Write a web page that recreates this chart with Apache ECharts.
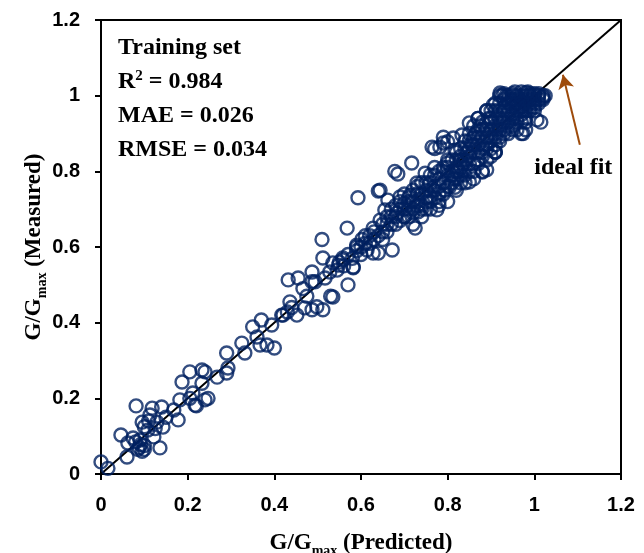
<!DOCTYPE html>
<html>
<head>
<meta charset="utf-8">
<script src="https://cdn.jsdelivr.net/npm/echarts@6/dist/echarts.min.js"></script>
<style>
  html, body { margin: 0; padding: 0; background: #fff; }
  #chart { width: 644px; height: 553px; }
</style>
</head>
<body>
<div id="chart"></div>
<script>
// ticks
const AXIS_MIN = 0
const AXIS_MAX = 1.2
const AXIS_STEP = 0.2

// [predicted, measured]
const pointsLow = [
  [0.0, 0.032], [0.016, 0.015], [0.046, 0.103], [0.06, 0.045], [0.081, 0.18], [0.062, 0.082],
  [0.074, 0.095], [0.08, 0.085], [0.088, 0.07], [0.095, 0.06], [0.1, 0.075], [0.09, 0.09],
  [0.085, 0.065], [0.1, 0.065], [0.092, 0.078], [0.095, 0.137], [0.1, 0.125], [0.118, 0.174],
  [0.113, 0.156], [0.14, 0.177], [0.136, 0.069], [0.122, 0.098], [0.143, 0.124], [0.129, 0.137],
  [0.108, 0.116], [0.178, 0.143], [0.168, 0.169], [0.182, 0.196], [0.187, 0.243], [0.205, 0.27],
  [0.212, 0.214], [0.217, 0.182], [0.233, 0.24], [0.24, 0.196], [0.247, 0.2], [0.233, 0.275],
  [0.24, 0.27], [0.268, 0.256], [0.29, 0.32], [0.29, 0.267], [0.293, 0.28], [0.205, 0.2],
  [0.22, 0.18], [0.11, 0.14], [0.125, 0.12], [0.15, 0.15]
]

const pointsMid = [
  [0.325, 0.346], [0.332, 0.32], [0.35, 0.389], [0.37, 0.407], [0.36, 0.362], [0.367, 0.341],
  [0.383, 0.341], [0.4, 0.333], [0.394, 0.394], [0.417, 0.42], [0.43, 0.428], [0.436, 0.455],
  [0.452, 0.42], [0.47, 0.439], [0.487, 0.434], [0.498, 0.442], [0.512, 0.434], [0.535, 0.468],
  [0.432, 0.513], [0.455, 0.518], [0.466, 0.49], [0.487, 0.534], [0.487, 0.508], [0.494, 0.508],
  [0.517, 0.518], [0.512, 0.571], [0.528, 0.534], [0.535, 0.558], [0.545, 0.539], [0.558, 0.566],
  [0.57, 0.5], [0.582, 0.545], [0.59, 0.6], [0.51, 0.62], [0.42, 0.42], [0.44, 0.44],
  [0.475, 0.47], [0.53, 0.47], [0.548, 0.552], [0.558, 0.571], [0.582, 0.547], [0.59, 0.605],
  [0.568, 0.65], [0.593, 0.73]
]

const pointsUpper = [
  [0.602, 0.62], [0.614, 0.592], [0.628, 0.584], [0.64, 0.584], [0.672, 0.592], [0.628, 0.65],
  [0.644, 0.671], [0.655, 0.698], [0.662, 0.724], [0.683, 0.69], [0.69, 0.732], [0.7, 0.716],
  [0.713, 0.737], [0.725, 0.65], [0.732, 0.693], [0.717, 0.822], [0.729, 0.769], [0.748, 0.795],
  [0.764, 0.864], [0.775, 0.698], [0.76, 0.732], [0.79, 0.875], [0.8, 0.822], [0.794, 0.75],
  [0.817, 0.856], [0.817, 0.758], [0.644, 0.75], [0.678, 0.8], [0.685, 0.793], [0.64, 0.748],
  [0.61, 0.63], [0.62, 0.61], [0.65, 0.64], [0.66, 0.66], [0.67, 0.68], [0.68, 0.66],
  [0.69, 0.7], [0.7, 0.68], [0.71, 0.7], [0.72, 0.72], [0.73, 0.71], [0.74, 0.74],
  [0.75, 0.73], [0.76, 0.77], [0.77, 0.76], [0.78, 0.78], [0.79, 0.8], [0.78, 0.74],
  [0.77, 0.86], [0.8, 0.878], [0.813, 0.888], [0.833, 0.896],
  [0.55, 0.56], [0.56, 0.55], [0.57, 0.58], [0.58, 0.57], [0.59, 0.59], [0.6, 0.6],
  [0.6, 0.58], [0.61, 0.61], [0.62, 0.63], [0.63, 0.62], [0.63, 0.64], [0.64, 0.63],
  [0.65, 0.66], [0.65, 0.62], [0.66, 0.68], [0.66, 0.64], [0.67, 0.66], [0.67, 0.7],
  [0.68, 0.68], [0.68, 0.71], [0.69, 0.67], [0.69, 0.72], [0.7, 0.7], [0.7, 0.74],
  [0.71, 0.68], [0.71, 0.73], [0.72, 0.75], [0.72, 0.69], [0.73, 0.72], [0.73, 0.76],
  [0.74, 0.7], [0.74, 0.77], [0.75, 0.75], [0.75, 0.7], [0.76, 0.72], [0.76, 0.79],
  [0.77, 0.75], [0.77, 0.81], [0.78, 0.8], [0.78, 0.72]
]

const pointsHigh = [
  [0.70, 0.68], [0.71, 0.72], [0.72, 0.70], [0.72, 0.66], [0.73, 0.74], [0.74, 0.71],
  [0.74, 0.68], [0.75, 0.77], [0.75, 0.72], [0.76, 0.70], [0.76, 0.75], [0.77, 0.79],
  [0.77, 0.73], [0.78, 0.76], [0.78, 0.71], [0.79, 0.81], [0.79, 0.77], [0.79, 0.74],
  [0.80, 0.83], [0.80, 0.79], [0.80, 0.76], [0.80, 0.72], [0.81, 0.80], [0.81, 0.77],
  [0.82, 0.85], [0.82, 0.81], [0.82, 0.78], [0.82, 0.75], [0.83, 0.83], [0.83, 0.79],
  [0.83, 0.86], [0.84, 0.81], [0.84, 0.77], [0.84, 0.88], [0.85, 0.84], [0.85, 0.80],
  [0.85, 0.86], [0.85, 0.90], [0.86, 0.82], [0.86, 0.87], [0.86, 0.78], [0.86, 0.92],
  [0.87, 0.85], [0.87, 0.89], [0.87, 0.82], [0.87, 0.94], [0.88, 0.87], [0.88, 0.91],
  [0.88, 0.84], [0.88, 0.80], [0.89, 0.89], [0.89, 0.93], [0.89, 0.86], [0.89, 0.96],
  [0.90, 0.91], [0.90, 0.88], [0.90, 0.94], [0.90, 0.84], [0.91, 0.92], [0.91, 0.96],
  [0.91, 0.89], [0.91, 0.85], [0.92, 0.94], [0.92, 0.98], [0.92, 0.91], [0.92, 0.88],
  [0.93, 0.96], [0.93, 0.93], [0.93, 0.99], [0.93, 0.90], [0.94, 0.95], [0.94, 0.98],
  [0.94, 0.92], [0.94, 1.00], [0.95, 0.97], [0.95, 0.94], [0.95, 0.99], [0.95, 0.91],
  [0.96, 0.96], [0.96, 0.98], [0.96, 1.00], [0.96, 0.93], [0.97, 0.97], [0.97, 0.99],
  [0.97, 0.95], [0.97, 1.01], [0.98, 0.98], [0.98, 0.96], [0.98, 1.00], [0.98, 0.93],
  [0.99, 0.99], [0.99, 0.97], [0.99, 1.00], [1.00, 0.98], [1.00, 1.00], [1.00, 0.96],
  [1.01, 0.99], [1.01, 1.00], [1.02, 1.00], [1.02, 0.99], [1.006, 0.936], [0.98, 0.91],
  [0.97, 0.90], [1.015, 0.93], [0.974, 0.9], [0.91, 0.851], [0.88, 0.798], [0.85, 0.772],
  [0.909, 0.851], [0.89, 0.804], [0.782, 0.864], [0.79, 0.89], [0.85, 0.928], [0.87, 0.94],
  [0.89, 0.96], [0.925, 1.0], [0.921, 1.007], [0.95, 1.005], [0.98, 1.008], [1.0, 1.005]
]

const pointsCluster = [
  [0.8, 0.81], [0.81, 0.83], [0.81, 0.79], [0.82, 0.83], [0.82, 0.8], [0.83, 0.81],
  [0.83, 0.84], [0.83, 0.77], [0.84, 0.83], [0.84, 0.86], [0.84, 0.79], [0.85, 0.82],
  [0.85, 0.88], [0.86, 0.85], [0.86, 0.89], [0.86, 0.8], [0.87, 0.87], [0.87, 0.91],
  [0.87, 0.83], [0.88, 0.89], [0.88, 0.93], [0.88, 0.85], [0.89, 0.91], [0.89, 0.87],
  [0.89, 0.83], [0.9, 0.93], [0.9, 0.96], [0.9, 0.89], [0.9, 0.86], [0.91, 0.94],
  [0.91, 0.98], [0.91, 0.9], [0.91, 0.87], [0.92, 0.96], [0.92, 0.92], [0.92, 0.89],
  [0.92, 1.0], [0.93, 0.97], [0.93, 0.94], [0.93, 0.91], [0.93, 1.005], [0.94, 0.96],
  [0.94, 0.99], [0.94, 0.93], [0.94, 0.9], [0.95, 0.98], [0.95, 0.95], [0.95, 0.92],
  [0.95, 1.0], [0.96, 0.99], [0.96, 0.97], [0.96, 0.94], [0.96, 0.91], [0.97, 0.98],
  [0.97, 0.96], [0.97, 0.93], [0.97, 1.0], [0.98, 0.99], [0.98, 0.97], [0.98, 0.94],
  [0.99, 0.98], [0.99, 0.96], [0.99, 1.005], [1.0, 0.99], [1.0, 0.97], [1.01, 0.98],
  [1.01, 1.005], [1.02, 0.995], [1.025, 1.0], [0.985, 1.01], [0.955, 1.01], [0.935, 1.0],
  [0.905, 0.975], [0.895, 0.94], [0.875, 0.92], [0.865, 0.9], [0.855, 0.87], [0.845, 0.85],
  [0.835, 0.82], [0.825, 0.8], [0.815, 0.78], [0.805, 0.76]
]

// reference line and its label
const idealLine = [[0, 0], [1.2, 1.2]]
const arrowFrom = [1.105, 0.87]
const arrowTo = [1.066, 1.055]
const idealLabelAt = [1.09, 0.81]

const statLines = [
  '{b|Training set}',
  '{b|R}{sup|2}{b| = 0.984}',
  '{b|MAE = 0.026}',
  '{b|RMSE = 0.034}'
]

const NAVY = '#002060'
const SERIF = '"Liberation Serif", "Times New Roman", serif'
const SANS = '"Liberation Sans", Arial, sans-serif'

const nameRich = {
  b: { fontFamily: SERIF, fontWeight: 'bold', fontSize: 23, color: '#000', lineHeight: 30 },
  sub: { fontFamily: SERIF, fontWeight: 'bold', fontSize: 14, color: '#000', lineHeight: 14, verticalAlign: 'bottom' }
}

const chart = echarts.init(document.getElementById('chart'))

const axisCommon = {
  type: 'value',
  min: AXIS_MIN,
  max: AXIS_MAX,
  interval: AXIS_STEP,
  splitLine: { show: false },
  nameMoveOverlap: false,
  axisLine: { onZero: false, lineStyle: { color: '#000', width: 2 } },
  axisTick: { show: true, inside: false, length: 6, lineStyle: { color: '#000', width: 2 } },
  axisLabel: { color: '#000', fontFamily: SANS, fontWeight: 'bold', fontSize: 20, margin: 21 }
}

const scatterStyle = {
  type: 'scatter',
  symbol: 'circle',
  symbolSize: 13,
  itemStyle: { color: 'rgba(0,0,0,0)', borderColor: NAVY, borderWidth: 2.4 },
  z: 3
}

chart.setOption({
  animation: false,
  backgroundColor: '#fff',
  grid: {
    left: 101, right: 23, top: 20, bottom: 79,
    outerBoundsMode: 'none',
    show: true, borderColor: '#000', borderWidth: 2
  },
  xAxis: {
    ...axisCommon,
    name: '{b|G/G}{sub|max}{b| (Predicted)}',
    nameLocation: 'middle',
    nameGap: 54,
    nameTextStyle: { rich: nameRich }
  },
  yAxis: {
    ...axisCommon,
    name: '{b|G/G}{sub|max}{b| (Measured)}',
    nameLocation: 'middle',
    nameRotate: 90,
    nameGap: 52,
    nameTextStyle: { rich: nameRich }
  },
  graphic: [{
    type: 'text',
    left: 118,
    top: 36,
    style: {
      text: statLines.join('\n'),
      rich: {
        b: { fontFamily: SERIF, fontWeight: 'bold', fontSize: 24, color: '#000', lineHeight: 34 },
        sup: { fontFamily: SERIF, fontWeight: 'bold', fontSize: 15, color: '#000', lineHeight: 34, verticalAlign: 'top', padding: [4, 0, 0, 0] }
      }
    }
  }],
  series: [
    {
      type: 'line',
      data: idealLine,
      symbol: 'none',
      lineStyle: { color: '#000', width: 2 },
      z: 2,
      markLine: {
        silent: true,
        symbol: ['none', 'arrow'],
        symbolSize: [12, 14],
        lineStyle: { color: '#9E4B0B', width: 2, type: 'solid' },
        label: { show: false },
        data: [[{ coord: arrowFrom }, { coord: arrowTo }]]
      },
      markPoint: {
        silent: true,
        symbol: 'circle',
        symbolSize: 0,
        label: {
          show: true,
          position: 'inside',
          formatter: 'ideal fit',
          fontFamily: SERIF,
          fontWeight: 'bold',
          fontSize: 24,
          color: '#000'
        },
        data: [{ coord: idealLabelAt }]
      }
    },
    { ...scatterStyle, data: pointsLow },
    { ...scatterStyle, data: pointsMid },
    { ...scatterStyle, data: pointsUpper },
    { ...scatterStyle, data: pointsHigh },
    { ...scatterStyle, data: pointsCluster }
  ]
})
</script>
</body>
</html>
